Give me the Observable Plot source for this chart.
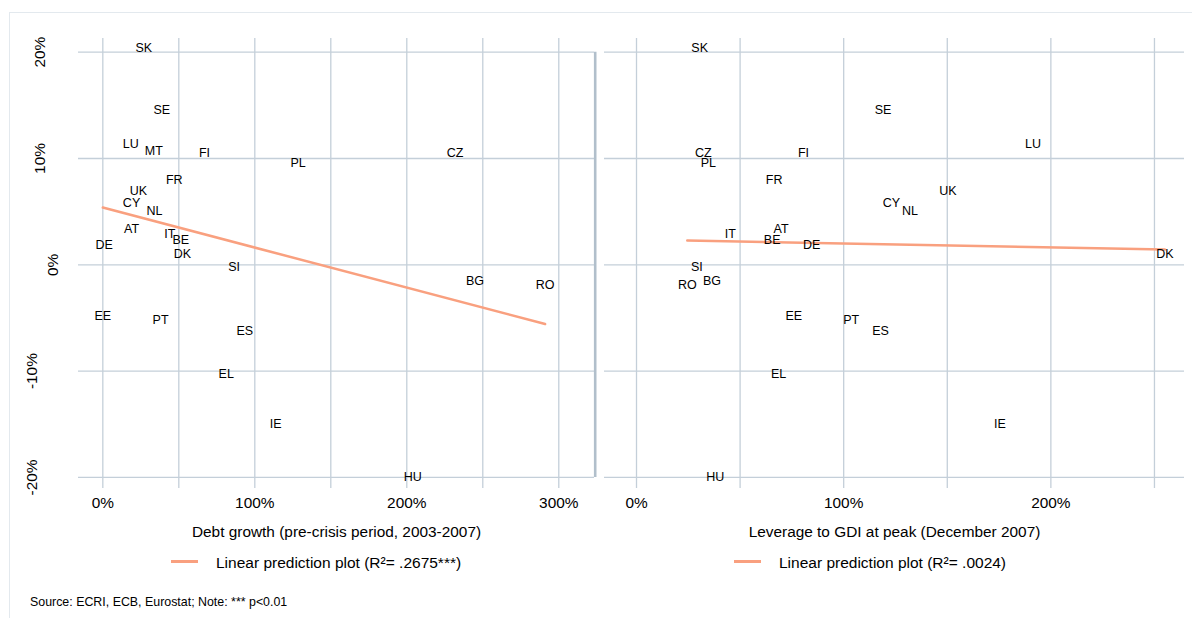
<!DOCTYPE html>
<html>
<head>
<meta charset="utf-8">
<script src="https://cdn.jsdelivr.net/npm/d3@7"></script>
<script src="https://cdn.jsdelivr.net/npm/@observablehq/plot@0.6"></script>
<style>
  body { margin: 0; background: #fff; font-family: "Liberation Sans", Arial, sans-serif; }
  #wrap { position: relative; width: 1192px; height: 618px; overflow: hidden; background: #fff; }
  #frame { position: absolute; left: 9px; top: 12px; width: 1200px; height: 620px; border: 1px solid #e3e9ee; box-sizing: border-box; }
  .chart { position: absolute; top: 0; }
  .chart svg { background: transparent; overflow: visible; }
  .legtext { position: absolute; font-size: 15.5px; line-height: 15.5px; color: #000; white-space: nowrap; }
  .sw { position: absolute; height: 3px; width: 27px; background: #f9a07f; }
  #source { position: absolute; left: 30px; top: 596px; font-size: 12.4px; line-height: 12.4px; color: #000; white-space: nowrap; }
</style>
</head>
<body>
<div id="wrap">
  <div id="frame"></div>
  <div id="left" class="chart" style="left:0px"></div>
  <div id="right" class="chart" style="left:590px"></div>
  <div class="sw" style="left:171px; top:560px"></div>
  <div class="legtext" id="leg1" style="left:216px; top:555px"></div>
  <div class="sw" style="left:734px; top:560px"></div>
  <div class="legtext" id="leg2" style="left:779px; top:555px"></div>
  <div id="source"></div>
</div>
<script>
// ---- data ----
const countries   = ["SK","SE","LU","MT","FI","PL","FR","UK","CY","NL","AT","IT","BE","DE","DK","SI","CZ","BG","RO","EE","PT","ES","EL","IE","HU"];
const priceChange = [20.4,14.6,11.4,10.7,10.5,9.6,8.0,6.9,5.8,5.1,3.4,2.9,2.35,1.9,1.0,-0.2,10.5,-1.54,-1.9,-4.8,-5.2,-6.2,-10.3,-15.0,-20.0];
const debtGrowth  = [27,38.8,18.4,33.6,66.9,128.5,47,23.5,18.9,34,18.9,44.1,51.3,0.9,52.4,86.4,231.8,244.9,291,0,38,93.4,81.2,113.7,203.9];
const leverage    = [30.5,119,191.4,null,80.6,34.7,66.4,150.3,123,132,69.8,45.3,65.5,84.6,255,29.1,32.2,36.4,24.5,75.9,103.6,117.8,68.6,175.4,38];

const yTicks      = [-20,-10,0,10,20];
const xTicksLeft  = [0,100,200,300];
const xGridLeft   = [0,50,100,150,200,250,300];
const xTicksRight = [0,100,200];
const xGridRight  = [0,50,100,150,200,250];

const xTitleLeft  = "Debt growth (pre-crisis period, 2003-2007)";
const xTitleRight = "Leverage to GDI at peak (December 2007)";
const legendLeft  = "Linear prediction plot (R\u00B2= .2675***)";
const legendRight = "Linear prediction plot (R\u00B2= .0024)";
const sourceText  = "Source: ECRI, ECB, Eurostat; Note: *** p<0.01";

const leftData  = countries.map((c,i) => ({c, x: debtGrowth[i], y: priceChange[i]}));
const rightData = countries.map((c,i) => ({c, x: leverage[i], y: priceChange[i]})).filter(d => d.x != null);

const FONT = "'Liberation Sans', Arial, sans-serif";
const gridColor = "#c4cfd9";
const lineColor = "#f9a07f";
const yDomain = [-21.04, 21.29];
const xDomainLeft = [-16, 323.5];
const xDomainRight = [-15.45, 264.5];

const common = {
  height: 548, marginTop: 38, marginBottom: 60,
  style: {fontFamily: FONT, fontSize: "15.4px", color: "#000", background: "transparent"}
};

// rotated y tick labels; the original's labels sit at slightly different distances by label width
const yAxisOpts = {anchor: "left", tickSize: 0, tickRotate: -90, textAnchor: "middle", lineAnchor: "middle",
  tickFormat: d => d + "%", fontSize: 15.4, label: null};

const left = Plot.plot({
  ...common,
  width: 600, marginLeft: 78, marginRight: 6,
  x: {domain: xDomainLeft},
  y: {domain: yDomain},
  marks: [
    Plot.gridX(xGridLeft, {stroke: gridColor, strokeOpacity: 1, strokeWidth: 1.3}),
    Plot.gridY(yTicks, {stroke: gridColor, strokeOpacity: 1, strokeWidth: 1.3}),
    Plot.axisX(xTicksLeft, {tickSize: 0, tickPadding: 9, tickFormat: d => d + "%", fontSize: 15.4,
      label: xTitleLeft, labelAnchor: "center", labelArrow: "none", labelOffset: 48}),
    Plot.axisY(yTicks.filter(d => d > 0), {...yAxisOpts, tickPadding: 38.5}),
    Plot.axisY(yTicks.filter(d => d === 0), {...yAxisOpts, tickPadding: 25.5}),
    Plot.axisY(yTicks.filter(d => d < 0), {...yAxisOpts, tickPadding: 46}),
    Plot.linearRegressionY(leftData, {x: "x", y: "y", stroke: lineColor, strokeWidth: 2.5, ci: 0}),
    Plot.text(leftData, {x: "x", y: "y", text: "c", fontSize: 12.5, fill: "#000"})
  ]
});

const right = Plot.plot({
  ...common,
  width: 602, marginLeft: 14, marginRight: 8,
  x: {domain: xDomainRight},
  y: {domain: yDomain, axis: null},
  marks: [
    Plot.gridX(xGridRight, {stroke: gridColor, strokeOpacity: 1, strokeWidth: 1.3}),
    Plot.gridY(yTicks, {stroke: gridColor, strokeOpacity: 1, strokeWidth: 1.3}),
    Plot.ruleX([xDomainRight[0]], {y1: d3.min(yTicks), y2: d3.max(yTicks), dx: -9.3, stroke: "#b1bfcb", strokeWidth: 2.6}),
    Plot.axisX(xTicksRight, {tickSize: 0, tickPadding: 9, tickFormat: d => d + "%", fontSize: 15.4,
      label: xTitleRight, labelAnchor: "center", labelArrow: "none", labelOffset: 48}),
    Plot.linearRegressionY(rightData, {x: "x", y: "y", stroke: lineColor, strokeWidth: 2.5, ci: 0}),
    Plot.text(rightData, {x: "x", y: "y", text: "c", fontSize: 12.5, fill: "#000"})
  ]
});

document.getElementById("left").appendChild(left);
document.getElementById("right").appendChild(right);
document.getElementById("leg1").textContent = legendLeft;
document.getElementById("leg2").textContent = legendRight;
document.getElementById("source").textContent = sourceText;
</script>
</body>
</html>
